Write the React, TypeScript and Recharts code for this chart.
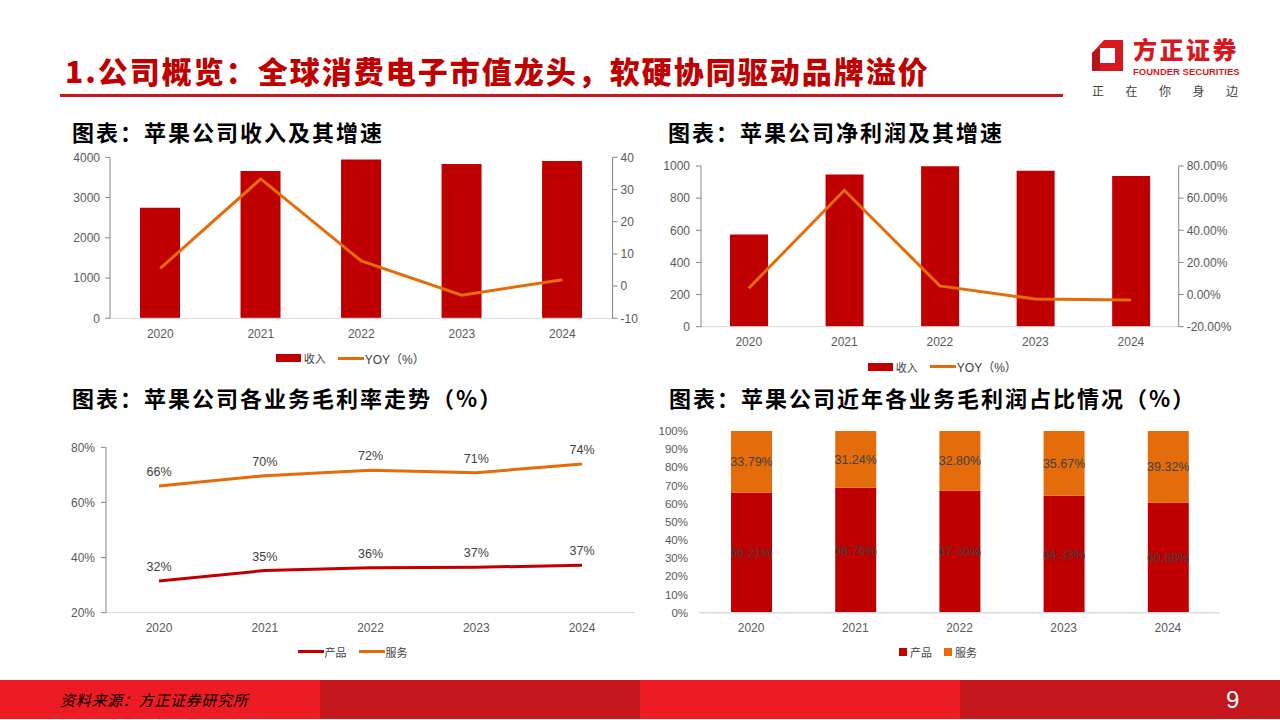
import React from "react";
import { ComposedChart, LineChart, BarChart, Bar, Line, XAxis, YAxis, Legend, LabelList } from "recharts";

const years = ["2020", "2021", "2022", "2023", "2024"];
// 收入（亿美元）及同比
const revenue = [2745, 3658, 3943, 3833, 3910];
const revenueYoy = [5.5, 33.3, 7.8, -2.8, 2.0];
// 净利润（亿美元）及同比
const netProfit = [574, 947, 998, 970, 937];
const netProfitYoy = [3.9, 64.9, 5.4, -2.8, -3.4];
// 毛利率
const productMargin = [31.5, 35.3, 36.3, 36.5, 37.2];
const serviceMargin = [66.0, 69.7, 71.7, 70.8, 73.9];
// 毛利润占比
const productShare = [66.21, 68.76, 67.2, 64.33, 60.68];
const serviceShare = [33.79, 31.24, 32.8, 35.67, 39.32];

const revTicks = [0, 1000, 2000, 3000, 4000];
const revYoyTicks = [-10, 0, 10, 20, 30, 40];
const profitTicks = [0, 200, 400, 600, 800, 1000];
const profitYoyTicks = [-20, 0, 20, 40, 60, 80];
const marginTicks = [20, 40, 60, 80];
const shareTicks = [0, 10, 20, 30, 40, 50, 60, 70, 80, 90, 100];

const revenueData = years.map((y, i) => ({ year: y, revenue: revenue[i], yoy: revenueYoy[i] }));
const profitData = years.map((y, i) => ({ year: y, profit: netProfit[i], yoy: netProfitYoy[i] }));
const marginData = years.map((y, i) => ({ year: y, product: productMargin[i], service: serviceMargin[i] }));
const shareData = years.map((y, i) => ({ year: y, product: productShare[i], service: serviceShare[i] }));

const RED = "#c00000";
const ORANGE = "#e46c0a";
const ff = "'Liberation Sans', Arial, 'Noto Sans CJK SC', sans-serif";
const cjk = "'Noto Sans CJK SC', sans-serif";
const tickStyle = { fontSize: 12, fill: "#595959", fontFamily: ff };
const axisGray = { stroke: "#868686" };

type Item = { kind: "rect" | "line" | "square"; color: string; label: string };

function LegendRow({ items, shift = 0 }: { items: Item[]; shift?: number }) {
  return (
    <div
      style={{
        display: "flex",
        justifyContent: "center",
        alignItems: "center",
        height: 20,
        transform: `translateX(${shift}px)`,
        fontSize: 11,
        color: "#404040",
        fontFamily: ff,
      }}
    >
      {items.map((it) => (
        <div key={it.label} style={{ display: "flex", alignItems: "center", marginRight: 12 }}>
          {it.kind === "rect" && <span style={{ width: 25, height: 8, background: it.color, marginRight: 3 }} />}
          {it.kind === "line" && <span style={{ width: 26, height: 3, background: it.color, marginRight: 1 }} />}
          {it.kind === "square" && <span style={{ width: 8, height: 8, background: it.color, marginRight: 3 }} />}
          <span style={{ fontSize: it.label.startsWith("YOY") ? 12 : 11 }}>{it.label}</span>
        </div>
      ))}
    </div>
  );
}

function Title({ text, left, top }: { text: string; left: number; top: number }) {
  return (
    <div
      style={{
        position: "absolute",
        left,
        top,
        fontFamily: cjk,
        fontWeight: 700,
        fontSize: 22,
        lineHeight: "26px",
        letterSpacing: 2,
        color: "#000",
        whiteSpace: "nowrap",
      }}
    >
      {text}
    </div>
  );
}

function RevenueChart() {
  return (
    <ComposedChart width={600} height={240} data={revenueData} margin={{ top: 17.3, right: 7.4, bottom: 11.7, left: 0 }}>
      <XAxis dataKey="year" tick={tickStyle} tickLine={false} axisLine={{ stroke: "#d9d9d9" }} tickMargin={5} height={30} />
      <YAxis yAxisId="l" domain={[0, 4000]} ticks={revTicks} interval={0} width={50} tick={tickStyle} tickSize={5} tickMargin={5} axisLine={axisGray} tickLine={axisGray} />
      <YAxis yAxisId="r" orientation="right" domain={[-10, 40]} ticks={revYoyTicks} interval={0} width={40} tick={tickStyle} tickSize={5} tickMargin={3} axisLine={axisGray} tickLine={axisGray} />
      <Legend
        verticalAlign="bottom"
        content={() => (
          <LegendRow items={[{ kind: "rect", color: RED, label: "收入" }, { kind: "line", color: ORANGE, label: "YOY（%）" }]} />
        )}
      />
      <Bar yAxisId="l" dataKey="revenue" fill={RED} barSize={40} isAnimationActive={false} />
      <Line yAxisId="r" type="linear" dataKey="yoy" stroke={ORANGE} strokeWidth={3} dot={false} isAnimationActive={false} />
    </ComposedChart>
  );
}

function ProfitChart() {
  return (
    <ComposedChart width={600} height={240} data={profitData} margin={{ top: 16, right: 11.3, bottom: 13.3, left: 0 }}>
      <XAxis dataKey="year" tick={tickStyle} tickLine={false} axisLine={{ stroke: "#d9d9d9" }} tickMargin={5} height={30} />
      <YAxis yAxisId="l" domain={[0, 1000]} ticks={profitTicks} interval={0} width={51} tick={tickStyle} tickSize={5} tickMargin={6} axisLine={axisGray} tickLine={axisGray} />
      <YAxis
        yAxisId="r"
        orientation="right"
        domain={[-20, 80]}
        ticks={profitYoyTicks}
        interval={0}
        width={60}
        tick={tickStyle}
        tickSize={5}
        tickMargin={3}
        axisLine={axisGray}
        tickLine={axisGray}
        tickFormatter={(v: number) => `${v.toFixed(2)}%`}
      />
      <Legend
        verticalAlign="bottom"
        content={() => (
          <LegendRow shift={4} items={[{ kind: "rect", color: RED, label: "收入" }, { kind: "line", color: ORANGE, label: "YOY（%）" }]} />
        )}
      />
      <Bar yAxisId="l" dataKey="profit" fill={RED} barSize={38} isAnimationActive={false} />
      <Line yAxisId="r" type="linear" dataKey="yoy" stroke={ORANGE} strokeWidth={3} dot={false} isAnimationActive={false} />
    </ComposedChart>
  );
}

function MarginChart() {
  const label = { fill: "#404040", fontSize: 12.5, fontFamily: ff };
  return (
    <LineChart width={580} height={245} data={marginData} margin={{ top: 17.3, right: 5, bottom: 13.3, left: 0 }}>
      <XAxis dataKey="year" tick={tickStyle} tickLine={false} axisLine={{ stroke: "#d9d9d9" }} tickMargin={5} height={29} padding={{ left: 53, right: 53 }} />
      <YAxis domain={[20, 80]} ticks={marginTicks} interval={0} width={46} tick={tickStyle} tickSize={5} tickMargin={6} axisLine={axisGray} tickLine={axisGray} tickFormatter={(v: number) => `${v}%`} />
      <Legend
        verticalAlign="bottom"
        content={() => (
          <LegendRow shift={11} items={[{ kind: "line", color: RED, label: "产品" }, { kind: "line", color: ORANGE, label: "服务" }]} />
        )}
      />
      <Line type="linear" dataKey="product" stroke={RED} strokeWidth={3} dot={false} isAnimationActive={false}>
        <LabelList dataKey="product" position="top" offset={10} {...label} formatter={(v: number) => `${Math.round(v)}%`} />
      </Line>
      <Line type="linear" dataKey="service" stroke={ORANGE} strokeWidth={3} dot={false} isAnimationActive={false}>
        <LabelList dataKey="service" position="top" offset={10} {...label} formatter={(v: number) => `${Math.round(v)}%`} />
      </Line>
    </LineChart>
  );
}

function ShareChart() {
  const label = { fill: "#404040", fontSize: 12.5, fontFamily: ff };
  return (
    <BarChart width={580} height={255} data={shareData} margin={{ top: 11, right: 10, bottom: 13, left: 0 }}>
      <XAxis dataKey="year" tick={tickStyle} tickLine={false} axisLine={{ stroke: "#d9d9d9", strokeWidth: 1.5 }} tickMargin={5} height={29.3} />
      <YAxis
        domain={[0, 100]}
        ticks={shareTicks}
        interval={0}
        width={49}
        tick={{ ...tickStyle, fontSize: 11.5 }}
        tickLine={false}
        axisLine={false}
        tickMargin={5}
        tickFormatter={(v: number) => `${v}%`}
      />
      <Legend
        verticalAlign="bottom"
        content={() => (
          <LegendRow shift={9} items={[{ kind: "square", color: RED, label: "产品" }, { kind: "square", color: ORANGE, label: "服务" }]} />
        )}
      />
      <Bar dataKey="product" stackId="a" fill={RED} barSize={41} isAnimationActive={false}>
        <LabelList dataKey="product" position="center" {...label} formatter={(v: number) => `${v.toFixed(2)}%`} />
      </Bar>
      <Bar dataKey="service" stackId="a" fill={ORANGE} barSize={41} isAnimationActive={false}>
        <LabelList dataKey="service" position="center" {...label} formatter={(v: number) => `${v.toFixed(2)}%`} />
      </Bar>
    </BarChart>
  );
}

function Logo() {
  return (
    <div style={{ position: "absolute", left: 1088, top: 36, width: 170, height: 70 }}>
      <svg width={40} height={40} style={{ position: "absolute", left: 0, top: 0 }}>
        <polygon points="16,4 35,4 35,35 4,35 4,17" fill="#d7191f" />
        <rect x={12} y={12} width={15} height={15} fill="#fff" />
        <polygon points="4,17 12,12 12,35 4,35" fill="#b5141a" />
      </svg>
      <div
        style={{
          position: "absolute",
          left: 45,
          top: 0,
          fontFamily: cjk,
          fontWeight: 900,
          fontSize: 24,
          lineHeight: "26px",
          letterSpacing: 2.5,
          color: "#d7191f",
          whiteSpace: "nowrap",
        }}
      >
        方正证券
      </div>
      <div
        style={{
          position: "absolute",
          left: 45,
          top: 30,
          fontFamily: ff,
          fontWeight: 700,
          fontSize: 9.5,
          lineHeight: "12px",
          color: "#d7191f",
          whiteSpace: "nowrap",
        }}
      >
        FOUNDER SECURITIES
      </div>
      <div
        style={{
          position: "absolute",
          left: 4,
          top: 48,
          fontFamily: cjk,
          fontSize: 12,
          lineHeight: "14px",
          letterSpacing: 21.5,
          color: "#404040",
          whiteSpace: "nowrap",
        }}
      >
        正在你身边
      </div>
    </div>
  );
}

export default function App() {
  const pos = (left: number, top: number): React.CSSProperties => ({ position: "absolute", left, top });
  return (
    <div style={{ position: "absolute", left: 0, top: 0, width: 1280, height: 720, background: "#fff", overflow: "hidden" }}>
      <div
        style={{
          position: "absolute",
          left: 65,
          top: 52,
          fontFamily: cjk,
          fontWeight: 900,
          fontSize: 30,
          lineHeight: "36px",
          letterSpacing: 2,
          color: RED,
          whiteSpace: "nowrap",
        }}
      >
        1.公司概览：全球消费电子市值龙头，软硬协同驱动品牌溢价
      </div>
      <div style={{ position: "absolute", left: 60, top: 94, width: 1003, height: 3, background: "#c8161d" }} />
      <Logo />

      <Title text="图表：苹果公司收入及其增速" left={72} top={118} />
      <Title text="图表：苹果公司净利润及其增速" left={668} top={118} />
      <Title text="图表：苹果公司各业务毛利率走势（%）" left={72} top={384} />
      <Title text="图表：苹果公司近年各业务毛利润占比情况（%）" left={669} top={384} />

      <div style={pos(60, 140)}>
        <RevenueChart />
      </div>
      <div style={pos(650, 150)}>
        <ProfitChart />
      </div>
      <div style={pos(60, 430)}>
        <MarginChart />
      </div>
      <div style={pos(650, 420)}>
        <ShareChart />
      </div>

      <div style={{ position: "absolute", left: 0, top: 680, width: 320, height: 39, background: "#ed1c24" }} />
      <div style={{ position: "absolute", left: 320, top: 680, width: 320, height: 39, background: "#c4161c" }} />
      <div style={{ position: "absolute", left: 640, top: 680, width: 320, height: 39, background: "#ed1c24" }} />
      <div style={{ position: "absolute", left: 960, top: 680, width: 320, height: 39, background: "#c4161c" }} />
      <div
        style={{
          position: "absolute",
          left: 60,
          top: 690,
          fontFamily: cjk,
          fontStyle: "italic",
          fontSize: 15,
          lineHeight: "20px",
          letterSpacing: 0.7,
          color: "#000",
          whiteSpace: "nowrap",
        }}
      >
        资料来源：方正证券研究所
      </div>
      <div style={{ position: "absolute", left: 1226, top: 686, fontFamily: ff, fontSize: 24, lineHeight: "28px", color: "#fff" }}>9</div>
    </div>
  );
}
